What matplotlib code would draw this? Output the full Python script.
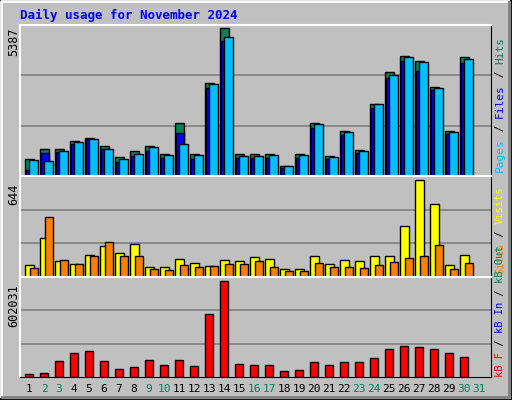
import matplotlib
matplotlib.use("Agg")
import matplotlib.pyplot as plt
from matplotlib.patches import Rectangle

days = list(range(1, 31))
day_labels = [str(d) for d in range(1, 32)]
weekend = [2, 3, 9, 10, 16, 17, 23, 24, 30, 31]
hits = [610, 970, 970, 1257, 1400, 1077, 682, 898, 1077, 790, 1940, 790, 3376, 5387, 790,
        790, 790, 359, 790, 1940, 718, 1652, 934, 2622, 3771, 4381, 4202, 3232, 1652, 4345]
files = [215, 826, 862, 1149, 1329, 970, 503, 718, 898, 646, 1580, 610, 3196, 4920, 646,
         646, 646, 287, 646, 1760, 610, 1508, 826, 2478, 3555, 4202, 3807, 3124, 1544, 4130]
pages = [575, 539, 898, 1221, 1329, 970, 610, 790, 1041, 754, 1149, 754, 3340, 5064, 718,
         718, 754, 359, 754, 1903, 682, 1616, 898, 2622, 3663, 4345, 4166, 3196, 1616, 4274]
visits = [79, 260, 107, 86, 149, 205, 163, 218, 65, 65, 121, 93, 72, 114, 107, 135, 121, 51,
          51, 142, 86, 114, 107, 142, 142, 337, 644, 484, 79, 149]
sites = [58, 400, 114, 86, 142, 232, 142, 142, 51, 44, 79, 65, 72, 86, 86, 107, 65, 37, 37,
         93, 65, 65, 58, 79, 100, 128, 142, 211, 51, 93]
kbf = [21700, 28200, 100000, 153000, 166000, 100000, 48000, 61000, 107000, 74000, 107000,
       68000, 396000, 602031, 81000, 74000, 74000, 35000, 41000, 94000, 74000, 94000, 94000,
       120000, 173000, 192000, 186000, 179000, 153000, 127000]

W, H = 512, 400
fig = plt.figure(figsize=(5.12, 4.0), dpi=100)
fig.patch.set_facecolor("#C0C0C0")
mono = "DejaVu Sans Mono"
GREEN = "#00805C"

fig.add_artist(Rectangle((0, 0), 1, 1, transform=fig.transFigure, fill=False, edgecolor="black", lw=2))
fig.add_artist(plt.Line2D([1/W, 1/W, 1-4/W], [4/H, 1-1/H, 1-1/H], transform=fig.transFigure, color="white", lw=2))
fig.add_artist(plt.Line2D([2/W, 1-3/W, 1-3/W], [3/H, 3/H, 1-2/H], transform=fig.transFigure, color="#808080", lw=2))

def ax_at(y0, y1):
    x0, x1 = 20, 491
    ax = fig.add_axes([x0 / W, 1 - y1 / H, (x1 - x0) / W, (y1 - y0) / H])
    ax.set_facecolor("#C0C0C0")
    ax.set_xlim(x0, x1)
    ax.set_xticks([]); ax.set_yticks([])
    for s in ax.spines.values():
        s.set_color("black")
    ax.spines["top"].set_color("white"); ax.spines["left"].set_color("white")
    ax.spines["top"].set_linewidth(1.5); ax.spines["left"].set_linewidth(1.5)
    return ax

pos = [25 + 15 * (d - 1) for d in days]

def grid(ax, top):
    for f in (1/3, 2/3):
        ax.axhline(top * f, color="#808080", lw=1.2, zorder=0)

ax1 = ax_at(25, 176)
top1 = 5387 * 150 / 147
ax1.set_ylim(0, top1)
grid(ax1, top1)
ax1.bar([p + 4 for p in pos], hits, width=9, color=GREEN, edgecolor="black", lw=1, zorder=2)
ax1.bar([p + 5 for p in pos], files, width=8, color="#0000FF", edgecolor="black", lw=1, zorder=3)
ax1.bar([p + 8.5 for p in pos], pages, width=9, color="#00BFFF", edgecolor="black", lw=1, zorder=4)

ax2 = ax_at(176, 277)
top2 = 644 * 96 / 92
ax2.set_ylim(0, top2)
grid(ax2, top2)
ax2.bar([p + 4 for p in pos], visits, width=9, color="#FFFF00", edgecolor="black", lw=1, zorder=2)
ax2.bar([p + 8.5 for p in pos], sites, width=8, color="#FF8000", edgecolor="black", lw=1, zorder=3)

ax3 = ax_at(277, 377)
top3 = 602031 * 96 / 92
ax3.set_ylim(0, top3)
grid(ax3, top3)
ax3.bar([p + 4 for p in pos], kbf, width=8, color="#FF0000", edgecolor="black", lw=1, zorder=2)

fig.text(20 / W, 1 - 15 / H, "Daily usage for November 2024", color="#0000FF", family=mono,
         weight="bold", fontsize=9, va="center", ha="left")

for y, t in [(28, "5387"), (184, "644"), (284, "602031")]:
    fig.text(14 / W, 1 - y / H, t, rotation=90, family=mono, fontsize=8.5, ha="center", va="top")

for i, lab in enumerate(day_labels):
    d = i + 1
    x = 25 + 15 * (d - 1) + 4
    fig.text(x / W, 1 - 389 / H, lab, family=mono, fontsize=8, ha="center", va="center",
             color=GREEN if d in weekend else "black")

renderer = fig.canvas.get_renderer()

def side(parts, ybottom, fs):
    y = ybottom
    for txt, col in parts:
        t = fig.text(500 / W, 1 - y / H, txt, rotation=90, family=mono, fontsize=fs,
                     color=col, ha="center", va="bottom")
        bb = t.get_window_extent(renderer)
        y -= bb.height
side([("Pages", "#00BFFF"), (" / ", "black"), ("Files", "#0000FF"), (" / ", "black"), ("Hits", GREEN)], 172, 8)
side([("Sites", "#FF8000"), (" / ", "black"), ("Visits", "#FFFF00")], 274, 7.5)
side([("kB F", "#FF0000"), (" / ", "black"), ("kB In", "#0000FF"), (" / ", "black"), ("kB Out", GREEN)], 377, 7.5)

fig.savefig("out.png", dpi=100, facecolor=fig.get_facecolor())
